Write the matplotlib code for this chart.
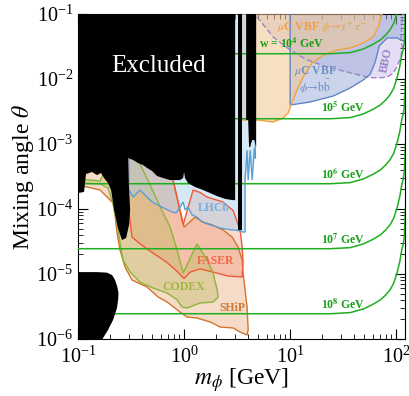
import matplotlib
matplotlib.use("Agg")
import matplotlib.pyplot as plt
from matplotlib.ticker import LogLocator, NullFormatter

plt.rcParams['font.family'] = ['Liberation Serif', 'DejaVu Serif']
plt.rcParams['mathtext.fontset'] = 'stix'

# ---------------- data (mass in GeV, mixing angle) ----------------
# Excluded (black) regions
excl_main_m = [0.09, 0.09, 0.1, 0.114, 0.119, 0.1355, 0.151, 0.165, 0.176, 0.192, 0.205, 0.219,
               0.238, 0.26, 0.284, 0.303, 0.31, 0.303, 0.296, 0.33, 0.368, 0.41, 0.448, 0.499,
               0.556, 0.634, 0.738, 0.916, 0.98, 1.0, 1.02, 1.09, 1.27, 1.51, 1.76, 2.05, 2.44,
               2.9, 3.03, 3.03]
excl_main_th = [0.2, 1.76e-4, 1.76e-4, 1.83e-4, 3.45e-4, 3.71e-4, 3.33e-4, 3.58e-4, 3.0e-4,
                2.51e-4, 1.96e-4, 9.7e-5, 5.1e-5, 3.33e-5, 3.58e-5, 5.7e-5, 9.7e-5, 1.96e-4,
                6.1e-4, 5.68e-4, 5.1e-4, 4.75e-4, 4.28e-4, 3.85e-4, 3.22e-4, 3.0e-4, 2.79e-4,
                2.79e-4, 3.0e-4, 3.71e-4, 3.0e-4, 2.51e-4, 2.18e-4, 1.96e-4, 1.76e-4, 1.58e-4,
                1.43e-4, 1.37e-4, 1.37e-4, 0.2]
excl_strip1_m = [3.2, 3.5, 3.5, 3.2]
excl_strip1_th = [4.75e-5, 4.75e-5, 0.2, 0.2]
excl_strip2_m = [3.85, 3.85, 4.02, 4.1, 4.2, 4.38, 4.6, 4.78, 4.78]
excl_strip2_th = [0.2, 2.34e-3, 2.34e-3, 9e-4, 9e-4, 1.15e-3, 1.15e-3, 9e-4, 0.2]
excl_blob_m = [0.09, 0.15, 0.188, 0.21, 0.2235, 0.234, 0.241, 0.239, 0.233, 0.214, 0.192,
               0.168, 0.16, 0.09]
excl_blob_th = [1.07e-5, 1.07e-5, 1.05e-5, 9.6e-6, 8.1e-6, 6.5e-6, 5.1e-6, 4.0e-6, 3.0e-6,
                1.96e-6, 1.38e-6, 9.7e-7, 8e-7, 8e-7]

# SHiP
ship_m = [0.1, 0.3, 0.7, 0.787, 1.0, 1.27, 1.51, 1.837, 2.333, 2.837, 3.23, 3.53, 3.6, 3.76,
          3.93, 4.02, 3.93, 3.375, 2.9, 2.185, 1.76, 1.327, 1.067, 0.916, 0.692, 0.569, 0.448,
          0.323, 0.2776, 0.249, 0.2333, 0.2235, 0.214, 0.192, 0.1614, 0.1216, 0.1]
ship_th = [5e-4, 8e-4, 5e-4, 2.79e-4, 5.28e-5, 7.5e-5, 6.3e-5, 5.7e-5, 4.75e-5, 3.71e-5,
           2.6e-5, 1.64e-5, 1.04e-5, 5.7e-6, 3.0e-6, 1.4e-6, 1.15e-6, 1.28e-6, 1.48e-6,
           1.53e-6, 1.83e-6, 2.1e-6, 2.18e-6, 2.6e-6, 3.71e-6, 4.43e-6, 6.3e-6, 8.1e-6,
           1.28e-5, 2.34e-5, 4.28e-5, 8e-5, 1.24e-4, 1.48e-4, 1.96e-4, 2.18e-4, 2.34e-4]

# FASER
faser_m = [0.3, 0.74, 0.787, 0.98, 1.216, 1.415, 1.648, 2.333, 2.9, 3.375, 3.53, 3.6, 3.53,
           2.6, 1.76, 1.415, 1.14, 1.0, 0.859, 0.692, 0.51, 0.385, 0.323, 0.3]
faser_th = [8e-4, 5e-4, 2.79e-4, 5.7e-5, 1.96e-4, 1.8e-4, 1.53e-4, 1.28e-4, 9.5e-5, 4.75e-5,
            2.6e-5, 1.53e-5, 9e-6, 9.3e-6, 1.1e-5, 1.2e-5, 1.07e-5, 8.5e-6, 1.1e-5, 1.5e-5,
            2.1e-5, 2.9e-5, 3.7e-5, 1e-4]

# CODEX
codex_m = [0.1, 0.1614, 0.2, 0.3, 0.368, 0.47, 0.594, 0.738, 0.859, 0.98, 1.327, 1.648, 1.877,
           2.05, 2.093, 1.877, 1.415, 1.067, 0.958, 0.859, 0.692, 0.51, 0.385, 0.31, 0.266,
           0.249, 0.238, 0.2235, 0.214, 0.192, 0.1614, 0.1]
codex_th = [2.9e-4, 2.7e-4, 6e-4, 8e-4, 5.68e-4, 2.51e-4, 1.09e-4, 5.3e-5, 2.34e-5, 1.04e-5,
            2.9e-5, 1.64e-5, 1.04e-5, 5.7e-6, 4.4e-6, 3.71e-6, 3.58e-6, 3.0e-6, 3.1e-6,
            4.0e-6, 5.1e-6, 6.1e-6, 7.5e-6, 1.07e-5, 1.64e-5, 3.0e-5, 5.1e-5, 8.5e-5, 1.2e-4,
            2.1e-4, 2.43e-4, 2.51e-4]

# LHCb
lhcb_m = [0.296, 0.296, 0.33, 0.385, 0.435, 0.5, 0.62, 0.77, 0.841, 0.916, 0.98, 1.022, 1.09,
          1.19, 1.327, 1.479, 1.76, 2.185, 2.837, 3.1, 3.6, 3.76, 3.76, 3.93, 4.02, 4.2, 4.38,
          4.6, 4.7, 4.7]
lhcb_th = [0.2, 2.1e-4, 1.53e-4, 1.96e-4, 1.6e-4, 1.28e-4, 1.07e-4, 9.0e-5, 8.7e-5, 1.07e-4,
           1.28e-4, 9.7e-5, 1.07e-4, 8.1e-5, 7.5e-5, 6.3e-5, 5.7e-5, 5.1e-5, 4.75e-5, 4.75e-5,
           4.43e-5, 4.43e-5, 2.79e-4, 8e-4, 2.79e-4, 8e-4, 2.79e-4, 8.5e-4, 6e-4, 0.2]

# muon collider VBF, phi -> tau tau
mutau_m = [3.45, 3.45, 4.88, 6.92, 8.58, 9.57, 10.4, 11.6, 13.3, 16.1, 20.5, 27.7, 36.8, 48.8,
           60.7, 67.6, 73.8, 76.0]
mutau_th = [0.2, 2.34e-3, 2.34e-3, 2.18e-3, 2.51e-3, 3.0e-3, 4.28e-3, 6.78e-3, 1.074e-2,
            1.76e-2, 2.34e-2, 2.79e-2, 3.0e-2, 3.58e-2, 4.43e-2, 6.3e-2, 0.1, 0.2]

# muon collider VBF, phi -> b bbar
mubb_m = [10.0, 10.0, 15.4, 25.5, 36.8, 48.8, 56.9, 63.4, 69.2, 82.2, 102.0, 121.6, 121.6]
mubb_th = [0.2, 3.98e-3, 4.43e-3, 5.47e-3, 7.28e-3, 9.66e-3, 1.19e-2, 1.83e-2, 3.22e-2,
           4.28e-2, 4.28e-2, 3.7e-2, 0.2]

# BBO
bbo_m = [4.6, 4.88, 6.92, 10.0, 14.5, 22.4, 34.6, 53.5, 66.2, 82.2, 94.2, 102.0, 111.0, 114.0,
         111.0, 116.0]
bbo_th = [0.12, 0.09, 0.0443, 0.0279, 0.0196, 0.0153, 0.0128, 0.0107, 0.01036, 0.0107,
          0.0124, 0.0158, 0.0218, 0.031, 0.0428, 0.12]

# constant-w curves
w_m = [0.1, 12, 24, 37, 49, 60, 71, 80, 88, 95, 102, 108, 113, 116, 119, 122]
w4_th = [2.45e-2, 2.45e-2, 2.45e-2, 2.55e-2, 2.9e-2, 3.4e-2, 4.0e-2, 4.8e-2, 5.8e-2, 7.3e-2,
         1.05e-1, 1.55e-1, 2.4e-1, 2.8e-1, 3.6e-1, 1.0]
w5_th = [2.45e-3, 2.45e-3, 2.45e-3, 2.55e-3, 2.9e-3, 3.4e-3, 4.0e-3, 4.8e-3, 5.8e-3, 7.3e-3,
         1.05e-2, 1.55e-2, 2.4e-2, 2.8e-2, 3.6e-2, 1e-1]
w6_th = [2.45e-4, 2.45e-4, 2.45e-4, 2.55e-4, 2.9e-4, 3.4e-4, 4.0e-4, 4.8e-4, 5.8e-4, 7.3e-4,
         1.05e-3, 1.55e-3, 2.4e-3, 2.8e-3, 3.6e-3, 1e-2]
w7_th = [2.45e-5, 2.45e-5, 2.45e-5, 2.55e-5, 2.9e-5, 3.4e-5, 4.0e-5, 4.8e-5, 5.8e-5, 7.3e-5,
         1.05e-4, 1.55e-4, 2.4e-4, 2.8e-4, 3.6e-4, 1e-3]
w8_th = [2.45e-6, 2.45e-6, 2.45e-6, 2.55e-6, 2.9e-6, 3.4e-6, 4.0e-6, 4.8e-6, 5.8e-6, 7.3e-6,
         1.05e-5, 1.55e-5, 2.4e-5, 2.8e-5, 3.6e-5, 1e-4]

w_labels = [r'w = 10$^{\mathbf{4}}$ GeV', r'10$^{\mathbf{5}}$ GeV', r'10$^{\mathbf{6}}$ GeV',
            r'10$^{\mathbf{7}}$ GeV', r'10$^{\mathbf{8}}$ GeV']
w_label_pos = [(10.4, 0.0345), (31.6, 3.58e-3), (31.6, 3.58e-4), (31.6, 3.33e-5), (31.6, 3.33e-6)]

# ---------------- figure ----------------
fig = plt.figure(figsize=(4.09, 3.96), dpi=100)
ax = fig.add_axes([0.1907, 0.1439, 0.7995, 0.8207])
ax.set_xscale('log')
ax.set_yscale('log')
ax.set_xlim(0.1, 121)
ax.set_ylim(1e-6, 1e-1)

def region(m, th, fc, alpha, ec, z, ls='-'):
    ax.fill(m, th, facecolor=fc, alpha=alpha, lw=0, zorder=z)
    ax.fill(m, th, fill=False, edgecolor=ec, lw=1.0, ls=ls, zorder=5)

region(bbo_m, bbo_th, '#c4b4e6', 0.45, '#9b86c8', 1, ls=(0, (4, 2)))
region(mubb_m, mubb_th, '#9aabd8', 0.5, '#5f86c6', 2)
region(mutau_m, mutau_th, '#f2c890', 0.55, '#f2a23a', 3)
region(ship_m, ship_th, '#f0c6a4', 0.6, '#d2742c', 1)
region(faser_m, faser_th, '#f08262', 0.3, '#f05a38', 2)
region(codex_m, codex_th, '#b9b656', 0.35, '#8db43c', 3)
region(lhcb_m, lhcb_th, '#a6cde8', 0.45, '#5a9fd4', 4)

green = '#1fae1f'
for th in (w4_th, w5_th, w6_th, w7_th, w8_th):
    ax.plot(w_m, th, color=green, lw=1.1, zorder=6)

for m, th in ((excl_main_m, excl_main_th), (excl_strip1_m, excl_strip1_th),
              (excl_strip2_m, excl_strip2_th), (excl_blob_m, excl_blob_th)):
    ax.fill(m, th, facecolor='black', edgecolor='none', zorder=7)

# ---------------- text ----------------
tk = dict(fontsize=8.5, fontweight='bold', ha='center', va='center', zorder=8)
for lab, (xm, yt) in zip(w_labels, w_label_pos):
    ax.text(xm, yt, lab, color='#17a017', **tk)
ax.text(20.0, 0.063, r'$\mu$C VBF $\phi\!\rightarrow\!\tau^+\tau^-$', color='#f0a040', **tk)
ax.text(17.2, 0.0133, r'$\mu$C VBF', color='#6e8fc6', **tk)
ax.text(17.2, 7.5e-3, r'$\phi\!\rightarrow\!\mathrm{b}\bar{\mathrm{b}}$', color='#6e8fc6', **tk)
ax.text(80.5, 0.0196, 'BBO', color='#9a88c8', rotation=78, **tk)
ax.text(1.92, 1.04e-4, 'LHCb', color='#78aede', **tk)
ax.text(2.0, 1.58e-5, 'FASER', color='#f06848', **tk)
ax.text(1.0, 6.3e-6, 'CODEX', color='#a0b840', **tk)
ax.text(2.84, 3.0e-6, 'SHiP', color='#d07a38', **tk)
ax.text(0.569, 0.016, 'Excluded', color='white', fontsize=18, ha='center', va='center', zorder=8)

ax.set_xlabel(r'$m_\phi$ [GeV]', fontsize=17, labelpad=-1.5)
ax.set_ylabel(r'Mixing angle $\theta$', fontsize=17, labelpad=0)

ax.xaxis.set_major_locator(LogLocator(base=10, numticks=10))
ax.yaxis.set_major_locator(LogLocator(base=10, numticks=10))
ax.xaxis.set_minor_locator(LogLocator(base=10, subs=range(2, 10), numticks=20))
ax.yaxis.set_minor_locator(LogLocator(base=10, subs=range(2, 10), numticks=20))
ax.xaxis.set_minor_formatter(NullFormatter())
ax.yaxis.set_minor_formatter(NullFormatter())
ax.tick_params(which='both', direction='in', top=True, right=True, labelsize=14.5)
ax.tick_params(axis='x', which='major', pad=5.5)
ax.tick_params(which='major', length=7, width=0.8)
ax.tick_params(which='minor', length=3.5, width=0.6)
for s in ax.spines.values():
    s.set_linewidth(0.8)

fig.savefig('out.png', dpi=100)
